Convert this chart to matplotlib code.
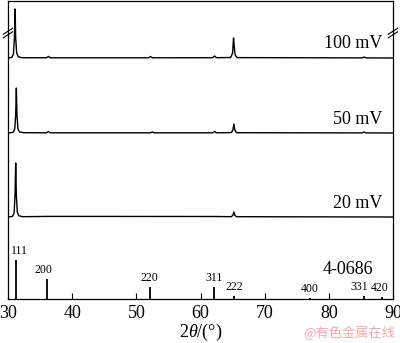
import numpy as np
import matplotlib.pyplot as plt

plt.rcParams['font.family'] = ['Liberation Serif', 'DejaVu Serif']
plt.rcParams['mathtext.fontset'] = 'custom'
plt.rcParams['mathtext.rm'] = 'Liberation Serif'
plt.rcParams['mathtext.it'] = 'Liberation Serif:italic'

# XRD traces: 2theta (deg) and intensity (arb., above baseline)
tt_100 = [30.0, 30.6, 30.85, 31.0, 31.1, 31.2, 31.35, 31.6, 32.2, 36.0, 36.3, 36.6,
          51.9, 52.2, 52.5, 61.9, 62.2, 62.5, 64.7, 65.0, 65.15, 65.25, 65.4, 65.7,
          85.2, 85.5, 85.8, 90.0]
i_100 = [0.0, 0.6, 4.0, 20.0, 49.0, 20.0, 5.0, 1.2, 0.3, 0.2, 1.6, 0.2,
         0.2, 1.5, 0.2, 0.3, 2.0, 0.3, 0.5, 5.0, 20.0, 12.0, 3.0, 0.4,
         0.1, 1.0, 0.1, 0.0]

tt_50 = [30.0, 30.8, 31.05, 31.2, 31.3, 31.4, 31.55, 31.8, 32.4, 36.0, 36.3, 36.6,
         52.2, 52.5, 52.8, 61.9, 62.2, 62.5, 64.8, 65.05, 65.2, 65.35, 65.6,
         85.2, 85.5, 85.8, 90.0]
i_50 = [0.0, 0.6, 4.0, 18.0, 45.0, 18.0, 4.0, 1.0, 0.3, 0.2, 1.5, 0.2,
        0.2, 1.0, 0.2, 0.2, 1.5, 0.2, 0.4, 3.0, 9.0, 3.0, 0.3,
        0.1, 1.0, 0.1, 0.0]

tt_20 = [30.0, 30.7, 30.95, 31.1, 31.2, 31.3, 31.45, 31.7, 32.3, 36.3, 62.2,
         64.8, 65.05, 65.2, 65.35, 65.6, 90.0]
i_20 = [0.0, 0.6, 4.0, 22.0, 54.0, 22.0, 5.0, 1.2, 0.3, 0.6, 0.5,
        0.3, 1.8, 5.0, 1.8, 0.3, 0.0]

# PDF 4-0686 reference sticks
pdf_pos = [31.2, 36.1, 52.1, 62.1, 65.2, 77.0, 85.5, 88.3]
pdf_int = [39, 20, 12, 12, 3, 1, 3, 2]
pdf_hkl = ['111', '200', '220', '311', '222', '400', '331', '420']

labels = ['20 mV', '50 mV', '100 mV']
offsets = [82, 166, 241]
traces = [(tt_20, i_20), (tt_50, i_50), (tt_100, i_100)]

fig = plt.figure(figsize=(4.0, 3.43), dpi=100)
ax = fig.add_axes([8 / 400, 44 / 343, 385 / 400, 298 / 343])

for (tt, ii), off, lab in zip(traces, offsets, labels):
    ax.plot(tt, np.array(ii) + off, color='black', lw=1.0)
    ax.text(88.4, off + 14, lab, ha='right', va='center', fontsize=13)

ax.vlines(pdf_pos, 0, pdf_int, color='black', lw=1.3)
nudge = {'111': 0.6, '200': -0.5, '331': -0.7, '420': -0.3}
for p, h, hkl in zip(pdf_pos, pdf_int, pdf_hkl):
    ax.text(p + nudge.get(hkl, 0), h + 3, hkl, ha='center', va='bottom', fontsize=8.5)
ax.text(83.0, 21, '4-0686', ha='center', va='bottom', fontsize=13)

ax.set_xlim(30, 90)
ax.set_ylim(0, 298)
ax.set_xticks(range(30, 91, 10))
ax.set_yticks([])
ax.tick_params(axis='x', direction='in', length=4, width=0.8, labelsize=13, pad=4)
for s in ax.spines.values():
    s.set_linewidth(0.9)
ax.set_xlabel(r'$2\theta$/(°)', fontsize=13, labelpad=0)

# axis break marks
yb = 1 - 32 / 298
for xb in (0, 1):
    for dy in (-0.006, 0.006):
        ax.plot([xb - 0.012, xb + 0.012], [yb + dy - 0.01, yb + dy + 0.01],
                transform=ax.transAxes, color='black', lw=0.8, clip_on=False)

fig.text(0.988, 0.01, '@有色金属在线', ha='right', va='bottom', fontsize=9.5,
         color='#f2a9ad', family=['Noto Sans CJK SC', 'DejaVu Sans'])

fig.savefig('out.png', dpi=100)
